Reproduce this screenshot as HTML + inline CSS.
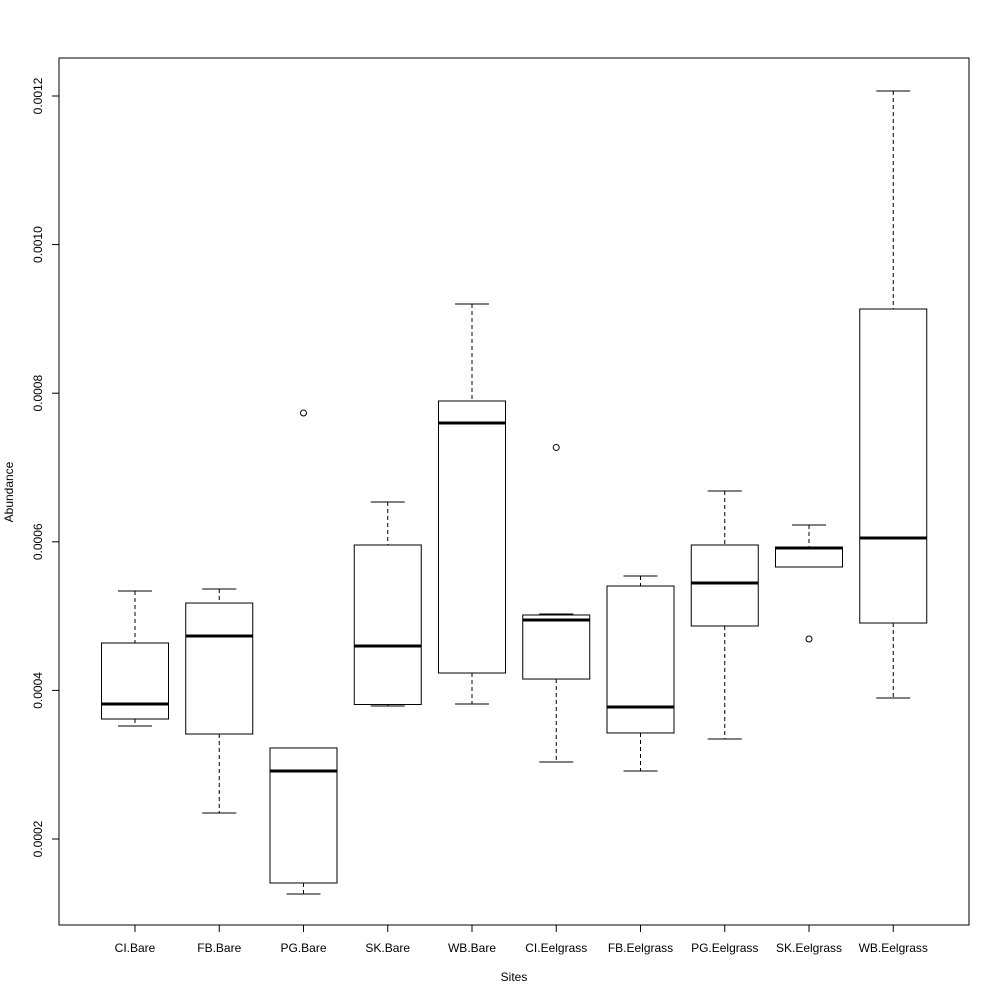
<!DOCTYPE html>
<html><head><meta charset="utf-8"><style>
html,body{margin:0;padding:0;background:#fff}
svg{display:block;font-family:"Liberation Sans",Arial,sans-serif}
</style></head><body>
<svg id="chart" width="1000" height="1000" viewBox="0 0 1000 1000">
<rect x="59" y="58" width="910" height="867" fill="none" stroke="#000" stroke-width="1"/>
<g id="yaxis"></g>
<g id="xaxis"></g>
<g id="boxes"></g>
<text x="514" y="981" font-size="12" text-anchor="middle">Sites</text>
<text x="13" y="492" font-size="12" text-anchor="middle" transform="rotate(-90 13 492)">Abundance</text>
</svg>
<script>
const categories = ["CI.Bare","FB.Bare","PG.Bare","SK.Bare","WB.Bare","CI.Eelgrass","FB.Eelgrass","PG.Eelgrass","SK.Eelgrass","WB.Eelgrass"];
const whiskerLow = [0.0003521,0.0002350,0.0001260,0.0003790,0.0003817,0.0003036,0.0002915,0.0003346,0.0005661,0.0003898];
const q1 =        [0.0003615,0.0003413,0.0001408,0.0003810,0.0004234,0.0004153,0.0003427,0.0004867,0.0005661,0.0004907];
const medians =   [0.0003817,0.0004732,0.0002915,0.0004598,0.0007599,0.0004948,0.0003777,0.0005446,0.0005917,0.0006051];
const q3 =        [0.0004638,0.0005176,0.0003225,0.0005957,0.0007895,0.0005015,0.0005405,0.0005957,0.0005930,0.0009133];
const whiskerHigh=[0.0005338,0.0005365,0.0003225,0.0006536,0.0009201,0.0005028,0.0005540,0.0006684,0.0006226,0.0012067];
const outlierCat = [2,5,8];
const outlierVal = [0.0007734,0.000727,0.0004692];
const yTicks = [0.0002,0.0004,0.0006,0.0008,0.0010,0.0012];
const yTickLabels = ["0.0002","0.0004","0.0006","0.0008","0.0010","0.0012"];

const NS="http://www.w3.org/2000/svg";
function yScale(v){return 839-(v-0.0002)/0.0002*148.6;}
function xScale(i){return 135+i*84.25;}
function mk(tag,attrs,parent){const e=document.createElementNS(NS,tag);for(const k in attrs)e.setAttribute(k,attrs[k]);parent.appendChild(e);return e;}
const ya=document.getElementById('yaxis'),xa=document.getElementById('xaxis'),bx=document.getElementById('boxes');
mk('line',{x1:59,x2:59,y1:yScale(yTicks[0]),y2:yScale(yTicks[yTicks.length-1]),stroke:'#000'},ya);
yTicks.forEach((t,i)=>{
  const y=yScale(t);
  const l=mk('line',{x1:52,x2:59,y1:y,y2:y,stroke:'#000'},ya);
  
  
  const tx=mk('text',{x:42,y:y,'font-size':12,'text-anchor':'middle',transform:`rotate(-90 42 ${y})`},ya);
  
  
  tx.textContent=yTickLabels[i];
});
mk('line',{x1:xScale(0),x2:xScale(categories.length-1),y1:925,y2:925,stroke:'#000'},xa);
categories.forEach((c,i)=>{
  const x=xScale(i);
  const l=mk('line',{x1:x,x2:x,y1:925,y2:932,stroke:'#000'},xa);
  
  
  const tx=mk('text',{x:x,y:952,'font-size':12,'text-anchor':'middle'},xa);
  
  
  tx.textContent=c;
  const g=mk('g',{},bx);
  
  
  const hw=33.5,cw=17;
  mk('line',{x1:x,x2:x,y1:yScale(whiskerHigh[i]),y2:yScale(q3[i]),stroke:'#000','stroke-dasharray':'4,3'},g);
  mk('line',{x1:x,x2:x,y1:yScale(q1[i]),y2:yScale(whiskerLow[i]),stroke:'#000','stroke-dasharray':'4,3'},g);
  mk('line',{x1:x-cw,x2:x+cw,y1:yScale(whiskerHigh[i]),y2:yScale(whiskerHigh[i]),stroke:'#000'},g);
  mk('line',{x1:x-cw,x2:x+cw,y1:yScale(whiskerLow[i]),y2:yScale(whiskerLow[i]),stroke:'#000'},g);
  mk('rect',{x:x-hw,y:yScale(q3[i]),width:2*hw,height:yScale(q1[i])-yScale(q3[i]),fill:'#fff',stroke:'#000'},g);
  mk('line',{x1:x-hw,x2:x+hw,y1:yScale(medians[i]),y2:yScale(medians[i]),stroke:'#000','stroke-width':3},g);
});
outlierCat.forEach((ci,j)=>{
  const c=mk('circle',{cx:xScale(ci),cy:yScale(outlierVal[j]),r:3,fill:'none',stroke:'#000'},bx);
  
  
});
</script>
</body></html>
